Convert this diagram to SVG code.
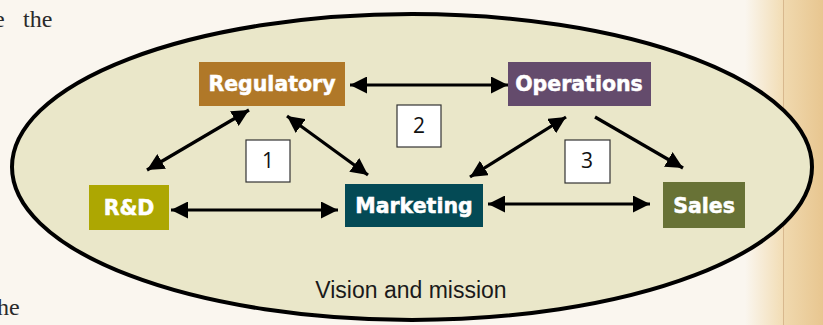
<svg xmlns="http://www.w3.org/2000/svg" width="823" height="325" viewBox="0 0 823 325">
<defs>
<linearGradient id="fade" x1="0" y1="0" x2="1" y2="0">
<stop offset="0" stop-color="#FAF6EF"/>
<stop offset="1" stop-color="#F2DDB5"/>
</linearGradient>
<linearGradient id="strip" x1="0" y1="0" x2="1" y2="0">
<stop offset="0" stop-color="#F0D9AF"/>
<stop offset="1" stop-color="#E8C690"/>
</linearGradient>
<marker id="ah" viewBox="0 0 10 10" refX="10" refY="5" markerWidth="17" markerHeight="17" markerUnits="userSpaceOnUse" orient="auto-start-reverse">
<path d="M0,0 L10,5 L0,10 Z" fill="#000"/>
</marker>
</defs>
<style>
.page{font-family:"Liberation Serif",serif;font-size:24px;fill:#2a2a2a}
.box{stroke:none}
.lbl{font-family:"DejaVu Sans",sans-serif;font-weight:bold;font-size:20.5px;fill:#fff;text-anchor:middle;stroke:#fff;stroke-width:0.5}
.num rect{fill:#fff;stroke:#333;stroke-width:1.2}
.num text{font-family:"Open Sans","Liberation Sans",sans-serif;font-size:21px;fill:#111;text-anchor:middle}
.conn line{stroke:#000;stroke-width:3.2}
</style>
<rect width="823" height="325" fill="#FAF6EF"/>
<rect x="745" y="0" width="38" height="325" fill="url(#fade)"/>
<rect x="783" y="0" width="40" height="325" fill="url(#strip)"/>
<line x1="783.5" y1="0" x2="783.5" y2="325" stroke="#D8B88E" stroke-width="1"/>
<text class="page" x="-6" y="27">e</text>
<text class="page" x="23" y="27">the</text>
<text class="page" x="-3" y="315">he</text>
<ellipse id="vision" cx="412" cy="167" rx="400" ry="153" fill="#EAE7C9" stroke="#000" stroke-width="4"/>
<text x="411" y="298" font-family="'Liberation Sans',sans-serif" font-size="23" fill="#1a1a1a" text-anchor="middle">Vision and mission</text>
<g class="conn">
<line x1="350" y1="85" x2="508" y2="85" marker-start="url(#ah)" marker-end="url(#ah)"/>
<line x1="147" y1="170" x2="249" y2="110" marker-start="url(#ah)" marker-end="url(#ah)"/>
<line x1="287" y1="116" x2="368" y2="175" marker-start="url(#ah)" marker-end="url(#ah)"/>
<line x1="470" y1="177" x2="566" y2="117" marker-start="url(#ah)" marker-end="url(#ah)"/>
<line x1="595" y1="117" x2="683" y2="168" marker-end="url(#ah)"/>
<line x1="171" y1="210" x2="338" y2="210" marker-start="url(#ah)" marker-end="url(#ah)"/>
<line x1="488" y1="204" x2="650" y2="204" marker-start="url(#ah)" marker-end="url(#ah)"/>
</g>
<g id="regulatory"><rect class="box" x="199" y="62" width="146" height="44" fill="#B07828"/><text class="lbl" x="272" y="91">Regulatory</text></g>
<g id="operations"><rect class="box" x="508" y="62" width="143" height="44" fill="#644B6C"/><text class="lbl" x="579" y="91">Operations</text></g>
<g id="rnd"><rect class="box" x="89" y="185" width="80" height="45" fill="#ADA702"/><text class="lbl" x="129" y="215">R&amp;D</text></g>
<g id="marketing"><rect class="box" x="345" y="184" width="138" height="43" fill="#044A55"/><text class="lbl" x="414" y="213">Marketing</text></g>
<g id="sales"><rect class="box" x="663" y="182" width="82" height="46" fill="#687236"/><text class="lbl" x="704" y="213">Sales</text></g>
<g id="n1" class="num"><rect x="246" y="140" width="44" height="42"/><text x="268" y="168">1</text></g>
<g id="n2" class="num"><rect x="397" y="105" width="44" height="42"/><text x="419" y="133">2</text></g>
<g id="n3" class="num"><rect x="565" y="140" width="45" height="43"/><text x="587" y="168">3</text></g>
</svg>
